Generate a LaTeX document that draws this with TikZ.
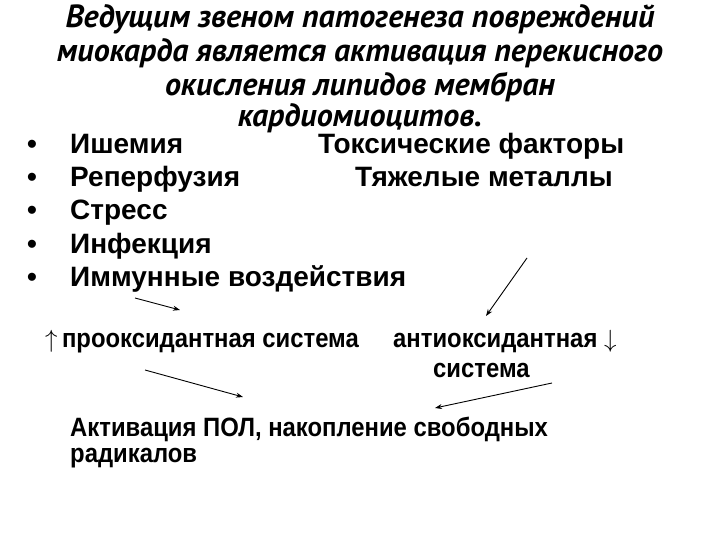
\documentclass[tikz,border=0pt]{standalone}
\usepackage{fontspec}
\setmainfont{Liberation Sans}
\newfontfamily\headfont{PT Sans}
\newfontfamily\narrowfont[FakeStretch=0.9]{Liberation Sans}
\usetikzlibrary{arrows.meta}

\newcommand{\bul}{\makebox[43pt][l]{\textbullet}}

\tikzset{
  head/.style={font=\headfont\bfseries\itshape\fontsize{32}{32.5}\selectfont, align=center, inner sep=0pt},
  item/.style={font=\bfseries\fontsize{28}{30}\selectfont, anchor=west, inner sep=0pt, text height=20pt, text depth=6pt},
  sys/.style={font=\narrowfont\bfseries\fontsize{26.5}{26}\selectfont, anchor=west, inner sep=0pt, text height=19pt, text depth=6pt},
  note/.style={font=\narrowfont\bfseries\fontsize{26.5}{25.5}\selectfont, anchor=north west, align=left, inner sep=0pt},
  link/.style={-{Stealth[length=7pt,width=5pt]}, line width=0.9pt}
}

\begin{document}
\begin{tikzpicture}[x=1pt, y=-1pt]
  \useasboundingbox (0,0) rectangle (720,540);
  % title
  \node (title) [head, anchor=north] at (360,4) {Ведущим звеном патогенеза повреждений\\[1.5pt]
    миокарда является активация перекисного\\[1.5pt]
    окисления липидов мембран\\[-1pt]
    кардиомиоцитов.};
  % causes
  \node (ish) [item] at (27,147) {\bul Ишемия};
  \node (rep) [item] at (27,180) {\bul Реперфузия};
  \node (str) [item] at (27,213) {\bul Стресс};
  \node (inf) [item] at (27,246) {\bul Инфекция};
  \node (imm) [item] at (27,279.5) {\bul Иммунные воздействия};
  \node (tox) [item] at (318,147) {Токсические факторы};
  \node (met) [item] at (355,180) {Тяжелые металлы};
  % systems
  \node (pro) [sys] at (45,341) {$\uparrow$\,прооксидантная система};
  \node (anti) [sys] at (393,341) {антиоксидантная $\downarrow$};
  \node (anti2) [sys] at (433,371) {система};
  \node (pol) [note] at (70,417) { Активация ПОЛ, накопление свободных\\радикалов};
  % arrows
  \coordinate (a1s) at (135,298);
  \coordinate (a1e) at (180,310);
  \coordinate (a2s) at (527,258);
  \coordinate (a2e) at (486,316);
  \coordinate (a3s) at (145,370);
  \coordinate (a3e) at (243,397);
  \coordinate (a4s) at (552,383);
  \coordinate (a4e) at (435,408);
  \draw [link] (a1s) -- (a1e);
  \draw [link] (a2s) -- (a2e);
  \draw [link] (a3s) -- (a3e);
  \draw [link] (a4s) -- (a4e);
\end{tikzpicture}
\end{document}
